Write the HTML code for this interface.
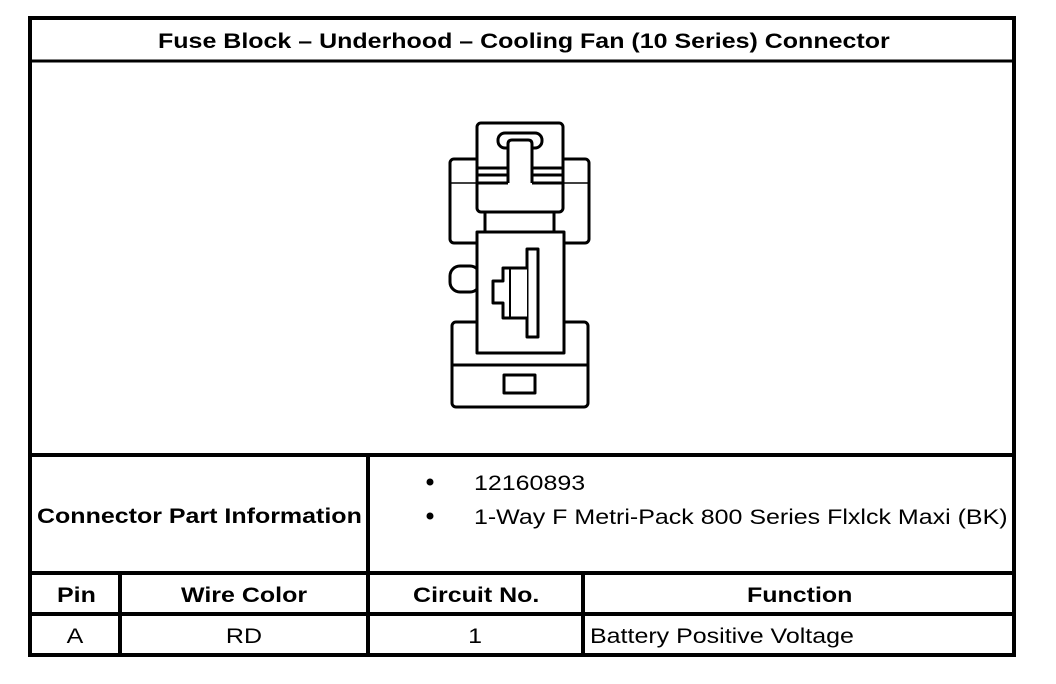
<!DOCTYPE html>
<html><head><style>
body{margin:0;background:#fff;}
svg{display:block;}
text{font-family:"Liberation Sans",Arial,sans-serif;fill:#000;}
</style></head><body>
<svg width="1056" height="684" viewBox="0 0 1056 684" xmlns="http://www.w3.org/2000/svg">
<g fill="none" stroke="#000" stroke-width="4">
<rect x="30" y="18" width="984" height="637"/>
<line x1="30" y1="61" x2="1014" y2="61" stroke-width="3"/>
<line x1="30" y1="455" x2="1014" y2="455"/>
<line x1="30" y1="573" x2="1014" y2="573"/>
<line x1="30" y1="614" x2="1014" y2="614"/>
<line x1="368" y1="455" x2="368" y2="655"/>
<line x1="120" y1="573" x2="120" y2="655"/>
<line x1="583" y1="573" x2="583" y2="655"/>
</g>
<circle cx="430" cy="482" r="3.5" fill="#000"/>
<circle cx="430" cy="516" r="3.5" fill="#000"/>
<g transform="scale(1.19,1)" font-size="21">
<text x="132.8" y="48" font-weight="bold">Fuse Block – Underhood – Cooling Fan (10 Series) Connector</text>
<text x="31.1" y="523" font-weight="bold">Connector Part Information</text>
<text x="398.3" y="490">12160893</text>
<text x="398.3" y="524">1-Way F Metri-Pack 800 Series Flxlck Maxi (BK)</text>
<text x="47.9" y="602" font-weight="bold">Pin</text>
<text x="152.1" y="602" font-weight="bold">Wire Color</text>
<text x="347.1" y="602" font-weight="bold">Circuit No.</text>
<text x="627.7" y="602" font-weight="bold">Function</text>
<text x="63" y="643" text-anchor="middle">A</text>
<text x="205" y="643" text-anchor="middle">RD</text>
<text x="399.2" y="643" text-anchor="middle">1</text>
<text x="495.8" y="643">Battery Positive Voltage</text>
</g>

<g fill="#fff" stroke="#000" stroke-width="3" stroke-linejoin="round">
<rect x="450" y="159" width="139" height="84" rx="4"/>
<rect x="450" y="266" width="30" height="26" rx="10"/>
<rect x="452" y="322" width="136" height="85" rx="4"/>
<rect x="485" y="212" width="69" height="22"/>
<rect x="477" y="123" width="86" height="89" rx="4"/>
<rect x="477" y="232" width="87" height="121"/>
<rect x="498" y="133" width="44" height="15" rx="7"/>
<path d="M508 183 V144 Q508 140 512 140 H528 Q532 140 532 144 V183"/>
<line x1="477" y1="168" x2="508" y2="168"/>
<line x1="532" y1="168" x2="563" y2="168"/>
<line x1="477" y1="175" x2="508" y2="175"/>
<line x1="532" y1="175" x2="563" y2="175"/>
<line x1="477" y1="183" x2="508" y2="183"/>
<line x1="532" y1="183" x2="563" y2="183"/>
<rect x="527" y="249" width="11" height="88"/>
<path d="M527 268 H503 V281 H493 V303 H503 V318 H527"/>
<line x1="510" y1="268" x2="510" y2="318" stroke-width="2"/>
<line x1="452" y1="365" x2="588" y2="365"/>
<rect x="504" y="375" width="31" height="18"/>
</g>
<g stroke="#000" stroke-width="1.5">
<line x1="450" y1="183" x2="477" y2="183"/>
<line x1="563" y1="183" x2="589" y2="183"/>
</g>
</svg>
</body></html>
